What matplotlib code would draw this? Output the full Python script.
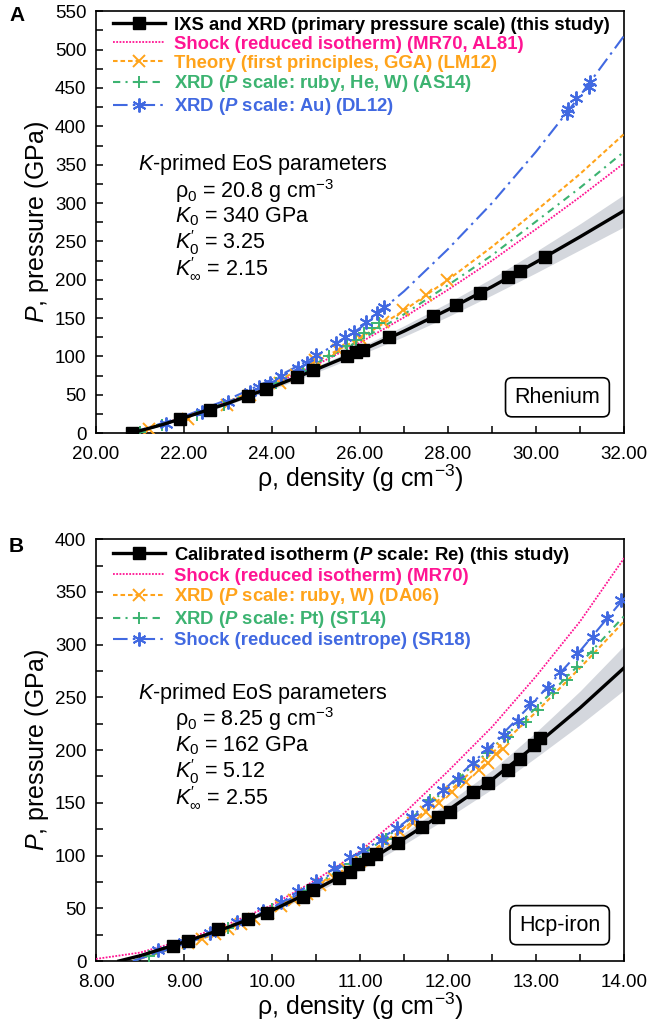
import matplotlib
matplotlib.use("Agg")
import matplotlib.pyplot as plt
from matplotlib.lines import Line2D
from matplotlib.ticker import MultipleLocator, FormatStrFormatter

plt.rcParams['font.family'] = ['Liberation Sans', 'DejaVu Sans']
plt.rcParams['mathtext.fontset'] = 'custom'
plt.rcParams['mathtext.rm'] = 'Liberation Sans'
plt.rcParams['mathtext.it'] = 'Liberation Sans:italic'
plt.rcParams['mathtext.bf'] = 'Liberation Sans:bold:italic'

# ---------------- Panel A : Rhenium ----------------
a_sq_rho = [20.81, 21.91, 22.58, 23.45, 23.86, 24.57, 24.94, 25.70, 25.91, 26.07, 26.66,
            27.66, 28.19, 28.72, 29.36, 29.64, 30.21]
a_sq_p = [0, 19, 30, 49, 58, 73, 82, 100, 106, 109, 125, 153, 167, 183, 203, 211, 230]

a_fit_rho = [20.8, 21.5, 22, 23, 24, 25, 26, 27, 28, 29, 30, 31, 32]
a_fit_p = [0, 11, 20, 39, 60, 83, 107, 133, 161, 191, 223, 256, 290]
a_band_hw = [0, 0.5, 1, 2, 3, 4, 5, 7, 9, 11, 14, 17, 21]

a_curve_rho = [20.8, 21, 22, 23, 24, 25, 26, 27, 28, 29, 30, 31, 32]
a_pink_p = [0, 3, 21, 41, 63, 89, 118, 151, 187, 225, 266, 308, 352]
a_orange_p = [0, 3, 20, 41, 65, 93, 124, 160, 200, 243, 290, 338, 390]
a_green_p = [0, 2, 20, 41, 64, 91, 121, 155, 193, 232, 276, 320, 367]
a_blue_p = [0, 4, 22, 44, 70, 100, 137, 185, 240, 300, 367, 440, 518]

a_or_rho = [21.2, 22.1, 22.98, 23.5, 24.17, 24.55, 24.98, 25.49, 26.0, 26.51, 26.98, 27.49, 27.98]
a_or_p = [5, 18, 37, 50, 66, 76, 95, 109, 124, 145, 161, 180, 200]
a_gr_rho = [21.0, 21.5, 22.3, 22.9, 23.5, 24.1, 24.7, 25.3, 25.7, 25.9, 26.09, 26.26, 26.43]
a_gr_p = [2, 10, 24, 37, 52, 65, 81, 100, 113, 121, 130, 137, 143]
a_bl_rho = [21.6, 22.4, 23.0, 23.49, 23.7, 23.96, 24.2, 24.6, 24.8, 25.0, 25.45, 25.66, 25.87,
            26.13, 26.38, 26.55, 30.7, 30.72, 30.9, 31.2, 31.22]
a_bl_p = [12, 28, 40, 54, 60, 65, 75, 85, 91, 102, 117, 125, 132, 145, 156, 164,
          417, 423, 437, 451, 458]

a_labels = ["IXS and XRD (primary pressure scale) (this study)",
            "Shock (reduced isotherm) (MR70, AL81)",
            "Theory (first principles, GGA) (LM12)",
            r"XRD ($\mathbf{P}$ scale: ruby, He, W) (AS14)",
            r"XRD ($\mathbf{P}$ scale: Au) (DL12)"]
a_params = [r"$K$-primed EoS parameters",
            r"ρ$_{\mathrm{0}}$ = 20.8 g cm$^{\mathrm{-3}}$",
            r"$K_{\mathrm{0}}$ = 340 GPa",
            r"$K^{\prime}_{\mathrm{0}}$ = 3.25",
            r"$K^{\prime}_{\infty}$ = 2.15"]

# ---------------- Panel B : Hcp-iron ----------------
b_sq_rho = [8.87, 9.05, 9.39, 9.73, 9.94, 10.35, 10.46, 10.76, 10.88, 10.98, 11.09, 11.18,
            11.43, 11.70, 11.88, 12.02, 12.28, 12.45, 12.68, 12.82, 12.98, 13.05]
b_sq_p = [14, 19, 30, 40, 46, 61, 67, 79, 84, 92, 97, 101, 112, 127, 137, 141, 160, 169,
          181, 192, 205, 211]

b_fit_rho = [8.26, 8.5, 9, 9.5, 10, 10.5, 11, 11.5, 12, 12.5, 13, 13.5, 14]
b_fit_p = [0, 5, 18, 32, 48, 68, 90, 116, 143, 172, 205, 240, 278]
b_band_hw = [0, 0.5, 1, 1.5, 2, 3, 4, 5.5, 7, 9, 12, 16, 21]

b_pink_rho = [8.0, 8.5, 9, 9.5, 10, 10.5, 11, 11.5, 12, 12.5, 13, 13.5, 14]
b_pink_p = [2, 8, 20, 35, 53, 77, 104, 140, 180, 222, 270, 322, 382]
b_curve_rho = [8.42, 9, 9.5, 10, 10.5, 11, 11.5, 12, 12.5, 13, 13.5, 14]
b_orange_p = [0, 15, 30, 48, 70, 96, 126, 160, 197, 236, 278, 322]
b_green_p = [0, 16, 31, 49, 72, 99, 130, 164, 202, 240, 282, 327]
b_blue_p = [0, 16, 31, 49, 73, 102, 131, 166, 205, 248, 294, 344]

b_or_rho = [9.05, 9.2, 9.35, 9.5, 9.65, 9.8, 9.95, 10.1, 10.25, 10.4, 10.55, 10.7, 10.85,
            11.0, 11.15, 11.3, 11.45, 11.6, 11.75, 11.9, 12.05, 12.2, 12.35, 12.45, 12.55, 12.62]
b_or_p = [17, 21, 26, 30, 35, 40, 46, 52, 58, 64, 72, 79, 87, 95, 103, 113, 122, 131, 141,
          150, 160, 170, 181, 188, 196, 201]
b_gr_rho = [8.6, 9.0, 9.5, 10.0, 10.4, 10.9, 11.3, 11.80, 12.14, 12.44, 12.68, 12.88, 13.02,
            13.19, 13.35, 13.47, 13.65]
b_gr_p = [5, 16, 31, 49, 66, 92, 116, 153, 173, 197, 212, 227, 238, 254, 266, 279, 292]
b_bl_rho = [8.7, 9.0, 9.3, 9.6, 9.9, 10.1, 10.3, 10.5, 10.7, 10.89, 11.03, 11.25, 11.42,
            11.59, 11.77, 11.94, 12.11, 12.28, 12.44, 12.63, 12.80, 12.93, 13.13, 13.27,
            13.46, 13.65, 13.81, 13.96]
b_bl_p = [10, 18, 27, 37, 47, 56, 66, 76, 88, 99, 105, 115, 126, 137, 150, 162, 173, 188,
          201, 214, 228, 245, 259, 274, 292, 307, 325, 342]

b_labels = [r"Calibrated isotherm ($\mathbf{P}$ scale: Re) (this study)",
            "Shock (reduced isotherm) (MR70)",
            r"XRD ($\mathbf{P}$ scale: ruby, W) (DA06)",
            r"XRD ($\mathbf{P}$ scale: Pt) (ST14)",
            "Shock (reduced isentrope) (SR18)"]
b_params = [r"$K$-primed EoS parameters",
            r"ρ$_{\mathrm{0}}$ = 8.25 g cm$^{\mathrm{-3}}$",
            r"$K_{\mathrm{0}}$ = 162 GPa",
            r"$K^{\prime}_{\mathrm{0}}$ = 5.12",
            r"$K^{\prime}_{\infty}$ = 2.55"]

BLACK = '#000000'
PINK = '#ff1493'
ORANGE = '#ffa31a'
GREEN = '#3cb371'
BLUE = '#4169e1'
BAND = '#d4d7dd'

ST_PINK = (0, (1, 0.8))
ST_ORANGE = (0, (2.2, 1.4))
ST_GREEN = (0, (3.5, 2.5, 1, 2.5))
ST_BLUE = (0, (7, 2.5, 1.2, 2.5))

fig = plt.figure(figsize=(6.49, 10.24), dpi=100)
axA = fig.add_axes([0.148, 0.577, 0.8136, 0.412])
axB = fig.add_axes([0.148, 0.0615, 0.8136, 0.412])


def draw(ax, fit_rho, fit_p, hw, sq_rho, sq_p, pink_rho, pink_p, curve_rho,
         series, labels, params, param_y, param_x0, param_x1, name, xlim, ylim,
         xmaj, xmin, xfmt):
    lo = [p - h for p, h in zip(fit_p, hw)]
    hi = [p + h for p, h in zip(fit_p, hw)]
    ax.fill_between(fit_rho, lo, hi, color=BAND, lw=0, zorder=1)
    ax.plot(pink_rho, pink_p, color=PINK, ls=ST_PINK, lw=1.3, zorder=3)
    handles = [Line2D([], [], color=BLACK, lw=2.4, marker='s', ms=8),
               Line2D([], [], color=PINK, ls=ST_PINK, lw=1.3)]
    for (cp, mr, mp, col, ls, mk, ms) in series:
        ax.plot(curve_rho, cp, color=col, ls=ls, lw=1.5, zorder=3)
        ax.plot(mr, mp, ls='none', marker=mk, ms=ms, mec=col, mfc=col, mew=1.4, zorder=4)
        handles.append(Line2D([], [], color=col, ls=ls, lw=1.5, marker=mk, ms=ms, mew=1.4))
    ax.plot(fit_rho, fit_p, color=BLACK, lw=2.4, zorder=5)
    ax.plot(sq_rho, sq_p, ls='none', marker='s', ms=8, color=BLACK, zorder=6)

    leg = ax.legend(handles, labels, loc='upper left', bbox_to_anchor=(0.022, 1.0),
                    frameon=False, handlelength=2.8, handletextpad=0.5,
                    labelspacing=0.1, borderaxespad=0.0, borderpad=0.3,
                    prop={'weight': 'bold', 'size': 13.3})
    for t, h in zip(leg.get_texts(), handles):
        t.set_color(h.get_color())

    for i, (s, y) in enumerate(zip(params, param_y)):
        ax.text(param_x0 if i == 0 else param_x1, y, s, fontsize=15.5, va='center', ha='left')

    ax.text(0.955, 0.085, name, transform=ax.transAxes, fontsize=15.5, ha='right', va='center',
            bbox=dict(boxstyle='round,pad=0.42,rounding_size=0.3', fc='white', ec='black', lw=1.2))

    ax.set_xlim(*xlim)
    ax.set_ylim(*ylim)
    ax.xaxis.set_major_locator(MultipleLocator(xmaj))
    ax.xaxis.set_minor_locator(MultipleLocator(xmin))
    ax.yaxis.set_major_locator(MultipleLocator(50))
    ax.yaxis.set_minor_locator(MultipleLocator(25))
    ax.xaxis.set_major_formatter(FormatStrFormatter(xfmt))
    ax.tick_params(which='both', direction='in', length=5, width=1.1, labelsize=13.5,
                   top=False, right=False)
    ax.tick_params(axis='x', pad=9)
    ax.tick_params(axis='y', pad=7)
    for sp in ax.spines.values():
        sp.set_linewidth(1.2)
    ax.set_xlabel(r"ρ, density (g cm$^{\mathrm{-3}}$)", fontsize=18, labelpad=0)
    ax.set_ylabel(r"$P$, pressure (GPa)", fontsize=18, labelpad=3)


draw(axA, a_fit_rho, a_fit_p, a_band_hw, a_sq_rho, a_sq_p, a_curve_rho, a_pink_p,
     a_curve_rho,
     [(a_orange_p, a_or_rho, a_or_p, ORANGE, ST_ORANGE, 'x', 9),
      (a_green_p, a_gr_rho, a_gr_p, GREEN, ST_GREEN, '+', 9),
      (a_blue_p, a_bl_rho, a_bl_p, BLUE, ST_BLUE, (6, 2, 0), 10)],
     a_labels, a_params, [350, 316, 282, 248, 214], 20.95, 21.8, 'Rhenium',
     (20, 32), (0, 550), 2, 1, '%.2f')

draw(axB, b_fit_rho, b_fit_p, b_band_hw, b_sq_rho, b_sq_p, b_pink_rho, b_pink_p,
     b_curve_rho,
     [(b_orange_p, b_or_rho, b_or_p, ORANGE, ST_ORANGE, 'x', 9),
      (b_green_p, b_gr_rho, b_gr_p, GREEN, ST_GREEN, '+', 9),
      (b_blue_p, b_bl_rho, b_bl_p, BLUE, ST_BLUE, (6, 2, 0), 10)],
     b_labels, b_params, [254, 229, 204, 180, 155], 8.48, 8.9, 'Hcp-iron',
     (8, 14), (0, 400), 1, 0.5, '%.2f')

fig.text(0.014, 0.985, 'A', fontsize=15, fontweight='bold', ha='left', va='center')
fig.text(0.014, 0.466, 'B', fontsize=15, fontweight='bold', ha='left', va='center')

fig.savefig('out.png', dpi=100)
